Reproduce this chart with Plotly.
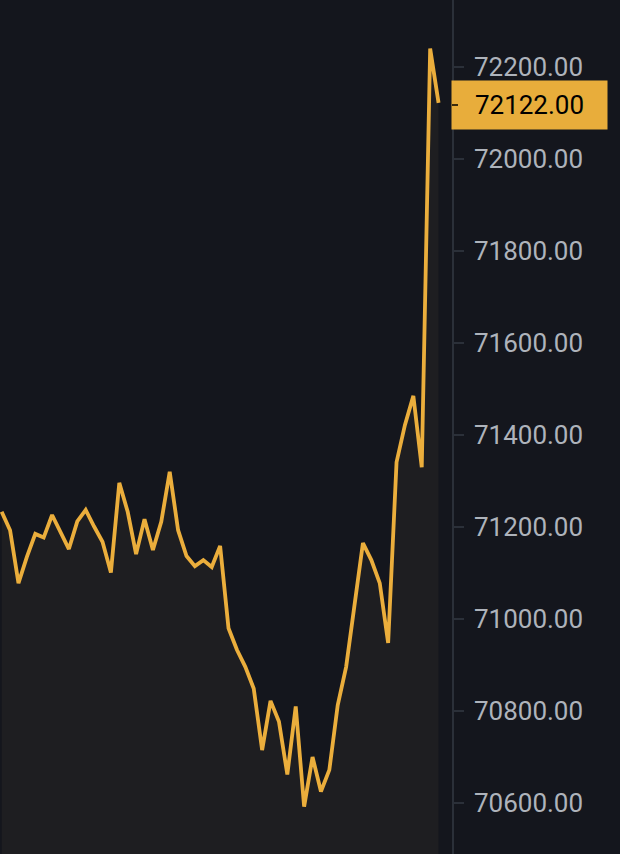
import plotly.graph_objects as go

# price series (one point per bar)
prices = [
    71233, 71193, 71078, 71135, 71185, 71177, 71226, 71190, 71152, 71212,
    71237, 71201, 71168, 71101, 71296, 71233, 71141, 71217, 71150, 71212,
    71320, 71193, 71137, 71115, 71128, 71113, 71159, 70980, 70933, 70896,
    70849, 70715, 70822, 70777, 70662, 70810, 70592, 70700, 70625, 70672,
    70813, 70896, 71035, 71165, 71128, 71078, 70948, 71341, 71422, 71485,
    71330, 72240, 72122,
]
idx = list(range(len(prices)))
last_price = prices[-1]
tick_vals = [70600, 70800, 71000, 71200, 71400, 71600, 71800, 72000, 72200]

BG = "#14161d"
LINE = "#ebae3c"
FILL = "#1e1e21"
AXIS = "#2b3039"
TXT = "#aeb3bb"

fig = go.Figure(go.Scatter(
    x=idx, y=prices, mode="lines",
    line=dict(color=LINE, width=3.8),
    fill="tozeroy", fillcolor=FILL,
    hoverinfo="skip",
))

# current price tag on the axis
fig.add_annotation(
    x=1, xref="paper", y=last_price, yref="y",
    xanchor="left", yanchor="middle", xshift=-1, yshift=-2,
    text=f"{last_price:.2f}", showarrow=False,
    width=153, height=46, align="center",
    bgcolor="#e8ad3b", font=dict(family="Roboto", size=26, color="#000000"),
)
fig.add_annotation(
    x=1, xref="paper", y=last_price, yref="y", yshift=-2,
    text=" ", showarrow=True, arrowhead=0, arrowwidth=1.5,
    arrowcolor="#000000", ax=9, ay=0, standoff=0, startstandoff=0,
)

fig.update_layout(
    width=620, height=854,
    margin=dict(l=0, r=168, t=0, b=0),
    paper_bgcolor=BG, plot_bgcolor=BG,
    showlegend=False,
    xaxis=dict(range=[-0.2, 53.6], visible=False, fixedrange=True),
    yaxis=dict(
        range=[70489.1, 72345.65], side="right",
        showgrid=False, zeroline=False,
        showline=True, linecolor=AXIS, linewidth=1.5,
        ticks="outside", ticklen=10, tickcolor=AXIS, tickwidth=1.5,
        tickvals=tick_vals, tickformat=".2f", ticklabelstandoff=5,
        tickfont=dict(family="Roboto", size=26, color=TXT),
    ),
)

fig.write_html("out.html", config={"displayModeBar": False},
               post_script="document.body.style.margin='0';")
